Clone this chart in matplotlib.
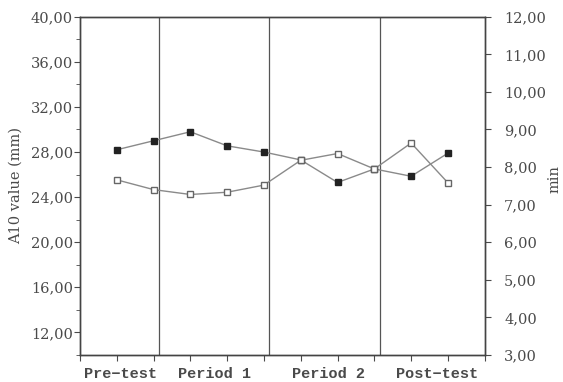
import numpy as np
import matplotlib
matplotlib.use("Agg")
import matplotlib.pyplot as plt
from matplotlib.ticker import FuncFormatter, MultipleLocator

# measurement occasions 1..10, grouped into four periods
occasions = np.arange(1, 11)
a10_mm = [28.2, 29.0, 29.8, 28.55, 28.0, 27.3, 25.3, 26.5, 25.85, 27.9]
time_min = [7.66, 7.40, 7.27, 7.33, 7.52, 8.18, 8.36, 7.95, 8.64, 7.58]
periods = ["Pre\u2212test", "Period 1", "Period 2", "Post\u2212test"]
period_centres = [1.1, 3.65, 6.75, 9.7]
period_breaks = [2.15, 5.15, 8.15]

grey = "#4a4a4a"
line_grey = "#8a8a8a"
plt.rcParams["font.family"] = ["DejaVu Serif"]

fig = plt.figure(figsize=(5.63, 3.82), dpi=100)
ax = fig.add_axes([0.142, 0.071, 0.719, 0.885])
ax2 = ax.twinx()

ax.plot(occasions, a10_mm, color=line_grey, lw=1.0, marker="s", ms=5,
        mfc="#222222", mec="#222222", zorder=3)
ax2.plot(occasions, time_min, color=line_grey, lw=1.0, marker="s", ms=5,
         mfc="white", mec="#666666", mew=1.0, zorder=3)

for b in period_breaks:
    ax.axvline(b, color="#555555", lw=0.9, zorder=1)

ax.set_xlim(0, 11)
ax.set_ylim(10, 40)
ax2.set_ylim(3, 12)

comma = FuncFormatter(lambda v, p: f"{v:.2f}".replace(".", ","))
ax.set_yticks(np.arange(12, 41, 4))
ax.yaxis.set_minor_locator(MultipleLocator(2))
ax.yaxis.set_major_formatter(comma)
ax2.yaxis.set_major_locator(MultipleLocator(1))
ax2.yaxis.set_major_formatter(comma)

ax.set_xticks(np.arange(0, 12))
ax.set_xticklabels([])
ax.tick_params(axis="x", direction="out", length=4, color=grey)
ax.tick_params(axis="y", which="major", direction="out", length=4, color=grey,
               labelsize=10.5, labelcolor=grey, pad=1)
ax.tick_params(axis="y", which="minor", direction="out", length=3, color=grey)
ax2.tick_params(axis="y", direction="out", length=4, color=grey,
                labelsize=10.5, labelcolor=grey, pad=10)

for a in (ax, ax2):
    for s in a.spines.values():
        s.set_color("#444444")
        s.set_linewidth(1.0)

for x, name in zip(period_centres, periods):
    ax.text(x, -0.035, name, transform=ax.get_xaxis_transform(), ha="center",
            va="top", fontsize=11, color=grey, family=["Liberation Mono", "DejaVu Sans Mono"],
            fontweight="bold")

ax.set_ylabel("A10 value (mm)", fontsize=10.5, color=grey, labelpad=6)
ax2.set_ylabel("min", fontsize=10.5, color=grey)
ax2.yaxis.set_label_coords(1.155, 0.52)

fig.savefig("out.png", dpi=100)
